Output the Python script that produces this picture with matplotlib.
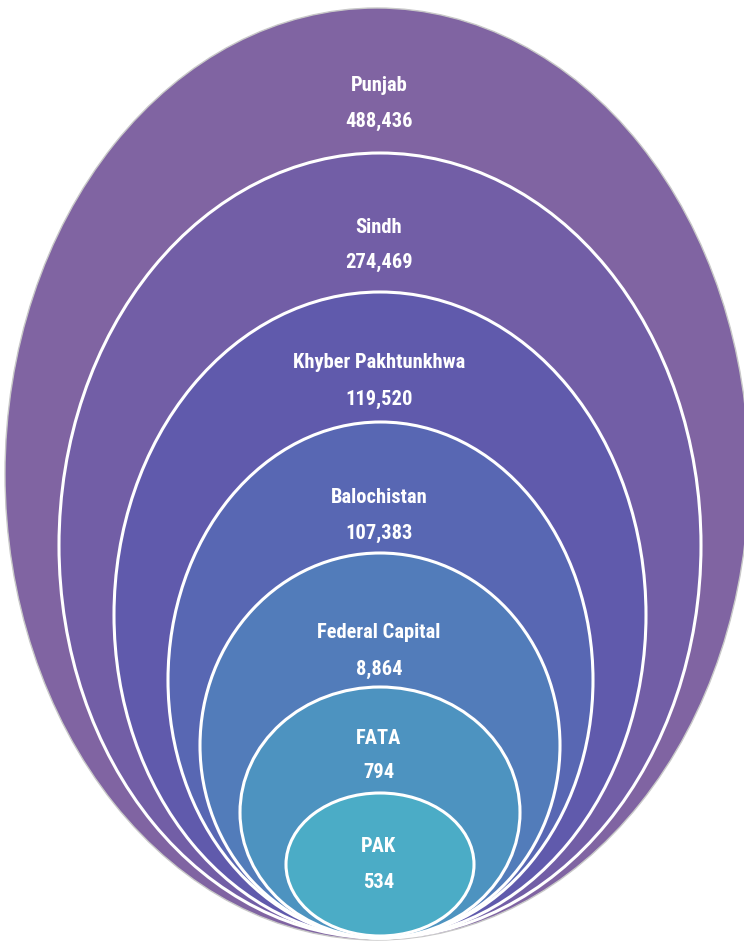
import matplotlib
matplotlib.use("Agg")
import matplotlib.pyplot as plt
from matplotlib.patches import Ellipse

# Data
regions = ["Punjab", "Sindh", "Khyber Pakhtunkhwa", "Balochistan",
           "Federal Capital", "FATA", "PAK"]
values = [488436, 274469, 119520, 107383, 8864, 794, 534]

# Layout (pixel space, y downwards)
tops = [8, 153, 292, 422, 553, 687, 793]
bottoms = [940, 938, 938, 938, 938, 938, 936]
lefts = [5, 59, 114, 168, 200, 240, 286]
rights = [749, 701, 646, 593, 560, 520, 474]
label_y = [85, 227, 363, 497, 633, 738, 847]
value_y = [121, 262, 399, 533, 669, 773, 883]
fills = ["#8064A2", "#725EA6", "#605AAC", "#5867B3", "#527CBA", "#4D93C0", "#4BACC6"]

W, H = 744, 941
fig = plt.figure(figsize=(W / 100, H / 100), dpi=100)
ax = fig.add_axes([0, 0, 1, 1])
ax.set_xlim(0, W)
ax.set_ylim(H, 0)
ax.axis("off")

fam = ["Liberation Sans Narrow", "Roboto Condensed", "Roboto", "DejaVu Sans"]

for i, (name, val) in enumerate(zip(regions, values)):
    cx = (lefts[i] + rights[i]) / 2
    cy = (tops[i] + bottoms[i]) / 2
    w = rights[i] - lefts[i]
    h = bottoms[i] - tops[i]
    ec = "#C8C8C8" if i == 0 else "white"
    lw = 1.0 if i == 0 else 2.2
    ax.add_patch(Ellipse((cx, cy), w, h, facecolor=fills[i], edgecolor=ec,
                         linewidth=lw, zorder=i + 1))
    tx = 379
    ax.text(tx, label_y[i], name, color="white", fontsize=14.8, fontweight="bold",
            ha="center", va="center", family=fam, zorder=20)
    ax.text(tx, value_y[i], f"{val:,}", color="white", fontsize=14.8, fontweight="bold",
            ha="center", va="center", family=fam, zorder=20)

fig.savefig("out.png", dpi=100)
